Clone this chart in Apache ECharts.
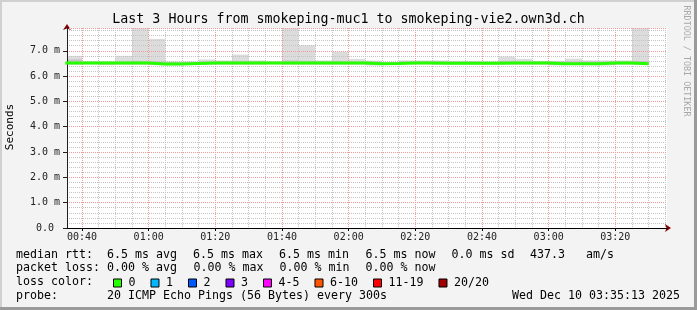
<!DOCTYPE html>
<html><head><meta charset="utf-8">
<script src="https://cdn.jsdelivr.net/npm/echarts@6/dist/echarts.min.js"></script>
<style>html,body{margin:0;padding:0;background:#f3f3f3}#c{width:697px;height:310px}</style>
</head><body><div id="c"></div>
<script>
// ---- data (5-minute steps; each value covers [start, start+5min]) ----
const stepStarts = ['00:35','00:40','00:45','00:50','00:55','01:00','01:05','01:10','01:15','01:20',
  '01:25','01:30','01:35','01:40','01:45','01:50','01:55','02:00','02:05','02:10',
  '02:15','02:20','02:25','02:30','02:35','02:40','02:45','02:50','02:55','03:00',
  '03:05','03:10','03:15','03:20','03:25'];
const lastStepEnd = '03:30';
const medianMs = [6.52,6.52,6.52,6.52,6.52,6.48,6.48,6.50,6.52,6.52,
  6.52,6.52,6.52,6.52,6.52,6.52,6.52,6.52,6.49,6.50,
  6.52,6.52,6.51,6.51,6.51,6.51,6.52,6.52,6.52,6.49,
  6.49,6.49,6.52,6.52,6.49];
const smokeLowMs = [6.45,6.46,6.43,6.45,6.45,6.43,6.42,6.44,6.45,6.45,
  6.45,6.45,6.46,6.45,6.45,6.45,6.45,6.45,6.42,6.45,
  6.46,6.46,6.45,6.45,6.45,6.45,6.45,6.45,6.45,6.42,
  6.44,6.43,6.42,6.45,6.45];
const smokeHighMs = [6.80,6.58,6.58,6.80,7.90,7.47,6.58,6.58,6.66,6.62,
  6.85,6.62,6.58,7.90,7.22,6.62,6.96,6.68,6.61,6.56,
  6.62,6.62,6.62,6.60,6.60,6.58,6.77,6.68,6.60,6.60,
  6.69,6.62,6.62,6.62,7.90];
const coreLowMs = [6.47,6.48,6.46,6.47,6.47,6.45,6.44,6.46,6.47,6.47,
  6.47,6.47,6.48,6.47,6.47,6.47,6.47,6.47,6.44,6.47,
  6.48,6.48,6.47,6.47,6.47,6.47,6.47,6.47,6.47,6.44,
  6.46,6.45,6.44,6.47,6.46];
const coreHighMs = [6.66,6.56,6.56,6.58,6.60,6.58,6.56,6.56,6.58,6.58,
  6.60,6.58,6.56,6.62,6.60,6.58,6.60,6.58,6.57,6.55,
  6.58,6.58,6.58,6.57,6.57,6.56,6.60,6.58,6.57,6.57,
  6.58,6.58,6.57,6.58,6.60];
const viewStart = '00:35:30', viewEnd = '03:35:30';
const xTickLabels = ['00:40','01:00','01:20','01:40','02:00','02:20','02:40','03:00','03:20'];
const xMinorTicks = ['00:40','00:45','00:50','00:55','01:00','01:05','01:10','01:15','01:20','01:25','01:30',
  '01:35','01:40','01:45','01:50','01:55','02:00','02:05','02:10','02:15','02:20','02:25','02:30','02:35',
  '02:40','02:45','02:50','02:55','03:00','03:05','03:10','03:15','03:20','03:25','03:30','03:35'];
const yMax = 7.9;
const lossColorNames = ['0','1','2','3','4-5','6-10','11-19','20/20'];
const lossColors = ['#26ff00','#00b8ff','#0059ff','#7e00ff','#ff00ff','#ff5500','#ff0000','#a10000'];
const titleText = 'Last 3 Hours from smokeping-muc1 to smokeping-vie2.own3d.ch';
const rttRow = ['median rtt:','6.5 ms avg','6.5 ms max','6.5 ms min','6.5 ms now','0.0 ms sd','437.3','am/s'];
const lossRow = ['packet loss:','0.00 % avg','0.00 % max','0.00 % min','0.00 % now'];
const lossColorLabel = 'loss color:';
const probeRow = ['probe:','20 ICMP Echo Pings (56 Bytes) every 300s'];
const dateText = 'Wed Dec 10 03:35:13 2025';
const yAxisTitle = 'Seconds';
const watermark = 'RRDTOOL / TOBI OETIKER';

// ---- helpers ----
function toMin(t){ const p=t.split(':').map(Number); return p[0]*60+p[1]+(p[2]||0)/60; }
function fmtMin(v){ const h=Math.floor(v/60), m=Math.round(v-h*60); return String(h).padStart(2,'0')+':'+String(m).padStart(2,'0'); }

const STEP = 5;
const smokeData = stepStarts.map((t,i)=>[toMin(t), toMin(t)+STEP, smokeLowMs[i], smokeHighMs[i]]);
const coreData = stepStarts.map((t,i)=>[toMin(t), toMin(t)+STEP, coreLowMs[i], coreHighMs[i]]);
const medianData = stepStarts.map((t,i)=>[toMin(t), medianMs[i]]);
medianData.push([toMin(lastStepEnd), medianMs[medianMs.length-1]]);

function bandRenderer(color){
  return function(params, api){
    const p1 = api.coord([api.value(0), api.value(3)]);
    const p2 = api.coord([api.value(1), api.value(2)]);
    const cs = params.coordSys;
    const r = echarts.graphic.clipRectByRect(
      {x:p1[0], y:p1[1], width:p2[0]-p1[0], height:p2[1]-p1[1]},
      {x:cs.x, y:cs.y, width:cs.width, height:cs.height});
    return r && {type:'rect', shape:r, style:{fill:color}};
  };
}

const MONO = '"DejaVu Sans Mono", monospace';
const LEG_FONT = '11.63px ' + MONO;
const MINOR = '#c4c4c4', MAJOR = '#f09a9a', ARROW = '#7f0000';

const chart = echarts.init(document.getElementById('c'), null, {renderer:'canvas'});

const texts = [];
function addText(str, x, y, opts){
  texts.push(Object.assign({type:'text', silent:true, style:Object.assign({text:str, x:x, y:y, font:LEG_FONT, fill:'#000',
    textAlign:'left', textVerticalAlign:'middle', align:'left', verticalAlign:'middle'}, opts||{})}));
}
addText(titleText, 348.5, 19.5, {font:'13.3px '+MONO, textAlign:'center', align:'center'});
const rttX = [16,107,193,279,365.5,451.5,530,586];
rttRow.forEach((s,i)=>addText(s, rttX[i], 254.5));
const lossX = [16,107,193.5,279.5,365.5];
lossRow.forEach((s,i)=>addText(s, lossX[i], 268));
addText(lossColorLabel, 16, 282);
addText(probeRow[0], 16, 296);
addText(probeRow[1], 107, 296);
addText(dateText, 680, 296, {textAlign:'right', align:'right'});

const frame = [
  {type:'rect', silent:true, shape:{x:0,y:0,width:697,height:2}, style:{fill:'#d0d0d0'}},
  {type:'rect', silent:true, shape:{x:0,y:0,width:2,height:310}, style:{fill:'#d0d0d0'}},
  {type:'rect', silent:true, shape:{x:0,y:307,width:697,height:3}, style:{fill:'#9a9a9a'}},
  {type:'rect', silent:true, shape:{x:694,y:0,width:3,height:310}, style:{fill:'#9a9a9a'}},
  {type:'text', silent:true, x:10, y:127, rotation:Math.PI/2,
    style:{text:yAxisTitle, x:0, y:0, font:'11px '+MONO, fill:'#000', textAlign:'center', textVerticalAlign:'middle', align:'center', verticalAlign:'middle'}},
  {type:'text', silent:true, x:686, y:61, rotation:-Math.PI/2,
    style:{text:watermark, x:0, y:0, font:'8.4px '+MONO, fill:'#a8a8a8', textAlign:'center', textVerticalAlign:'middle', align:'center', verticalAlign:'middle'}}
];

const lossSeries = lossColorNames.map((n,i)=>({name:n, type:'line', data:[], color:lossColors[i], xAxisIndex:0, yAxisIndex:0}));

const option = {
  animation:false,
  backgroundColor:'#f3f3f3',
  grid:{left:67, right:30, top:28, bottom:82, show:true, backgroundColor:'#ffffff', borderWidth:0, z:0},
  legend:{
    data:lossColorNames, left:108, top:272, icon:'rect', itemWidth:8, itemHeight:8, itemGap:15,
    selectedMode:false,
    itemStyle:{borderColor:'#000', borderWidth:1},
    textStyle:{fontFamily:MONO, fontSize:11.63, color:'#000', padding:[0,0,0,2]}
  },
  xAxis:[
    {type:'value', min:toMin(viewStart), max:toMin(viewEnd), z:1.2,
      axisLine:{show:true, lineStyle:{color:'#000', width:1}},
      axisTick:{show:true, length:3, lineStyle:{color:'#000'}, customValues:xTickLabels.map(toMin)},
      axisLabel:{show:true, customValues:xTickLabels.map(toMin), formatter:v=>fmtMin(v), margin:4,
        fontFamily:MONO, fontSize:10, color:'#222'},
      splitLine:{show:true, lineStyle:{color:MAJOR, type:'dotted', width:1}}},
    {type:'value', min:toMin(viewStart), max:toMin(viewEnd), z:1.1, position:'bottom',
      axisLine:{show:true, symbol:['none','arrow'], symbolSize:[6,6], symbolOffset:[0,4], lineStyle:{color:ARROW, width:1}},
      axisTick:{show:false, customValues:xMinorTicks.map(toMin)},
      axisLabel:{show:false, customValues:xMinorTicks.map(toMin)},
      splitLine:{show:true, lineStyle:{color:MINOR, type:'dotted', width:1}}}
  ],
  yAxis:[
    {type:'value', min:0, max:yMax, interval:1, z:1.2,
      axisLine:{show:true, lineStyle:{color:'#202020', width:1}},
      axisTick:{show:true, length:4, lineStyle:{color:'#202020'}},
      axisLabel:{showMaxLabel:false, margin:7, fontFamily:MONO, fontSize:10, color:'#222',
        formatter:v=> v===0 ? '0.0 ' : v.toFixed(1)+' m'},
      splitLine:{show:true, lineStyle:{color:MAJOR, type:'dotted', width:1}}},
    {type:'value', min:0, max:yMax, interval:0.2, z:1.1, position:'left',
      axisLine:{show:true, symbol:['none','arrow'], symbolSize:[6,6], symbolOffset:[0,4], lineStyle:{color:ARROW, width:1}},
      axisTick:{show:false}, axisLabel:{show:false},
      splitLine:{show:true, lineStyle:{color:MINOR, type:'dotted', width:1}}}
  ],
  series:[
    {type:'custom', name:'smoke', xAxisIndex:0, yAxisIndex:0, z:0.5, clip:true, silent:true,
      renderItem:bandRenderer('#dcdcdc'), data:smokeData},
    {type:'custom', name:'smoke core', xAxisIndex:0, yAxisIndex:0, z:0.6, clip:true, silent:true,
      renderItem:bandRenderer('#c4c4c4'), data:coreData},
    {type:'line', name:'median', xAxisIndex:0, yAxisIndex:0, z:3, step:'end', showSymbol:false, clip:true,
      lineStyle:{color:'#26ff00', width:3}, data:medianData, silent:true}
  ].concat(lossSeries),
  graphic:{elements:frame.concat(texts)}
};
chart.setOption(option);
</script>
</body></html>
